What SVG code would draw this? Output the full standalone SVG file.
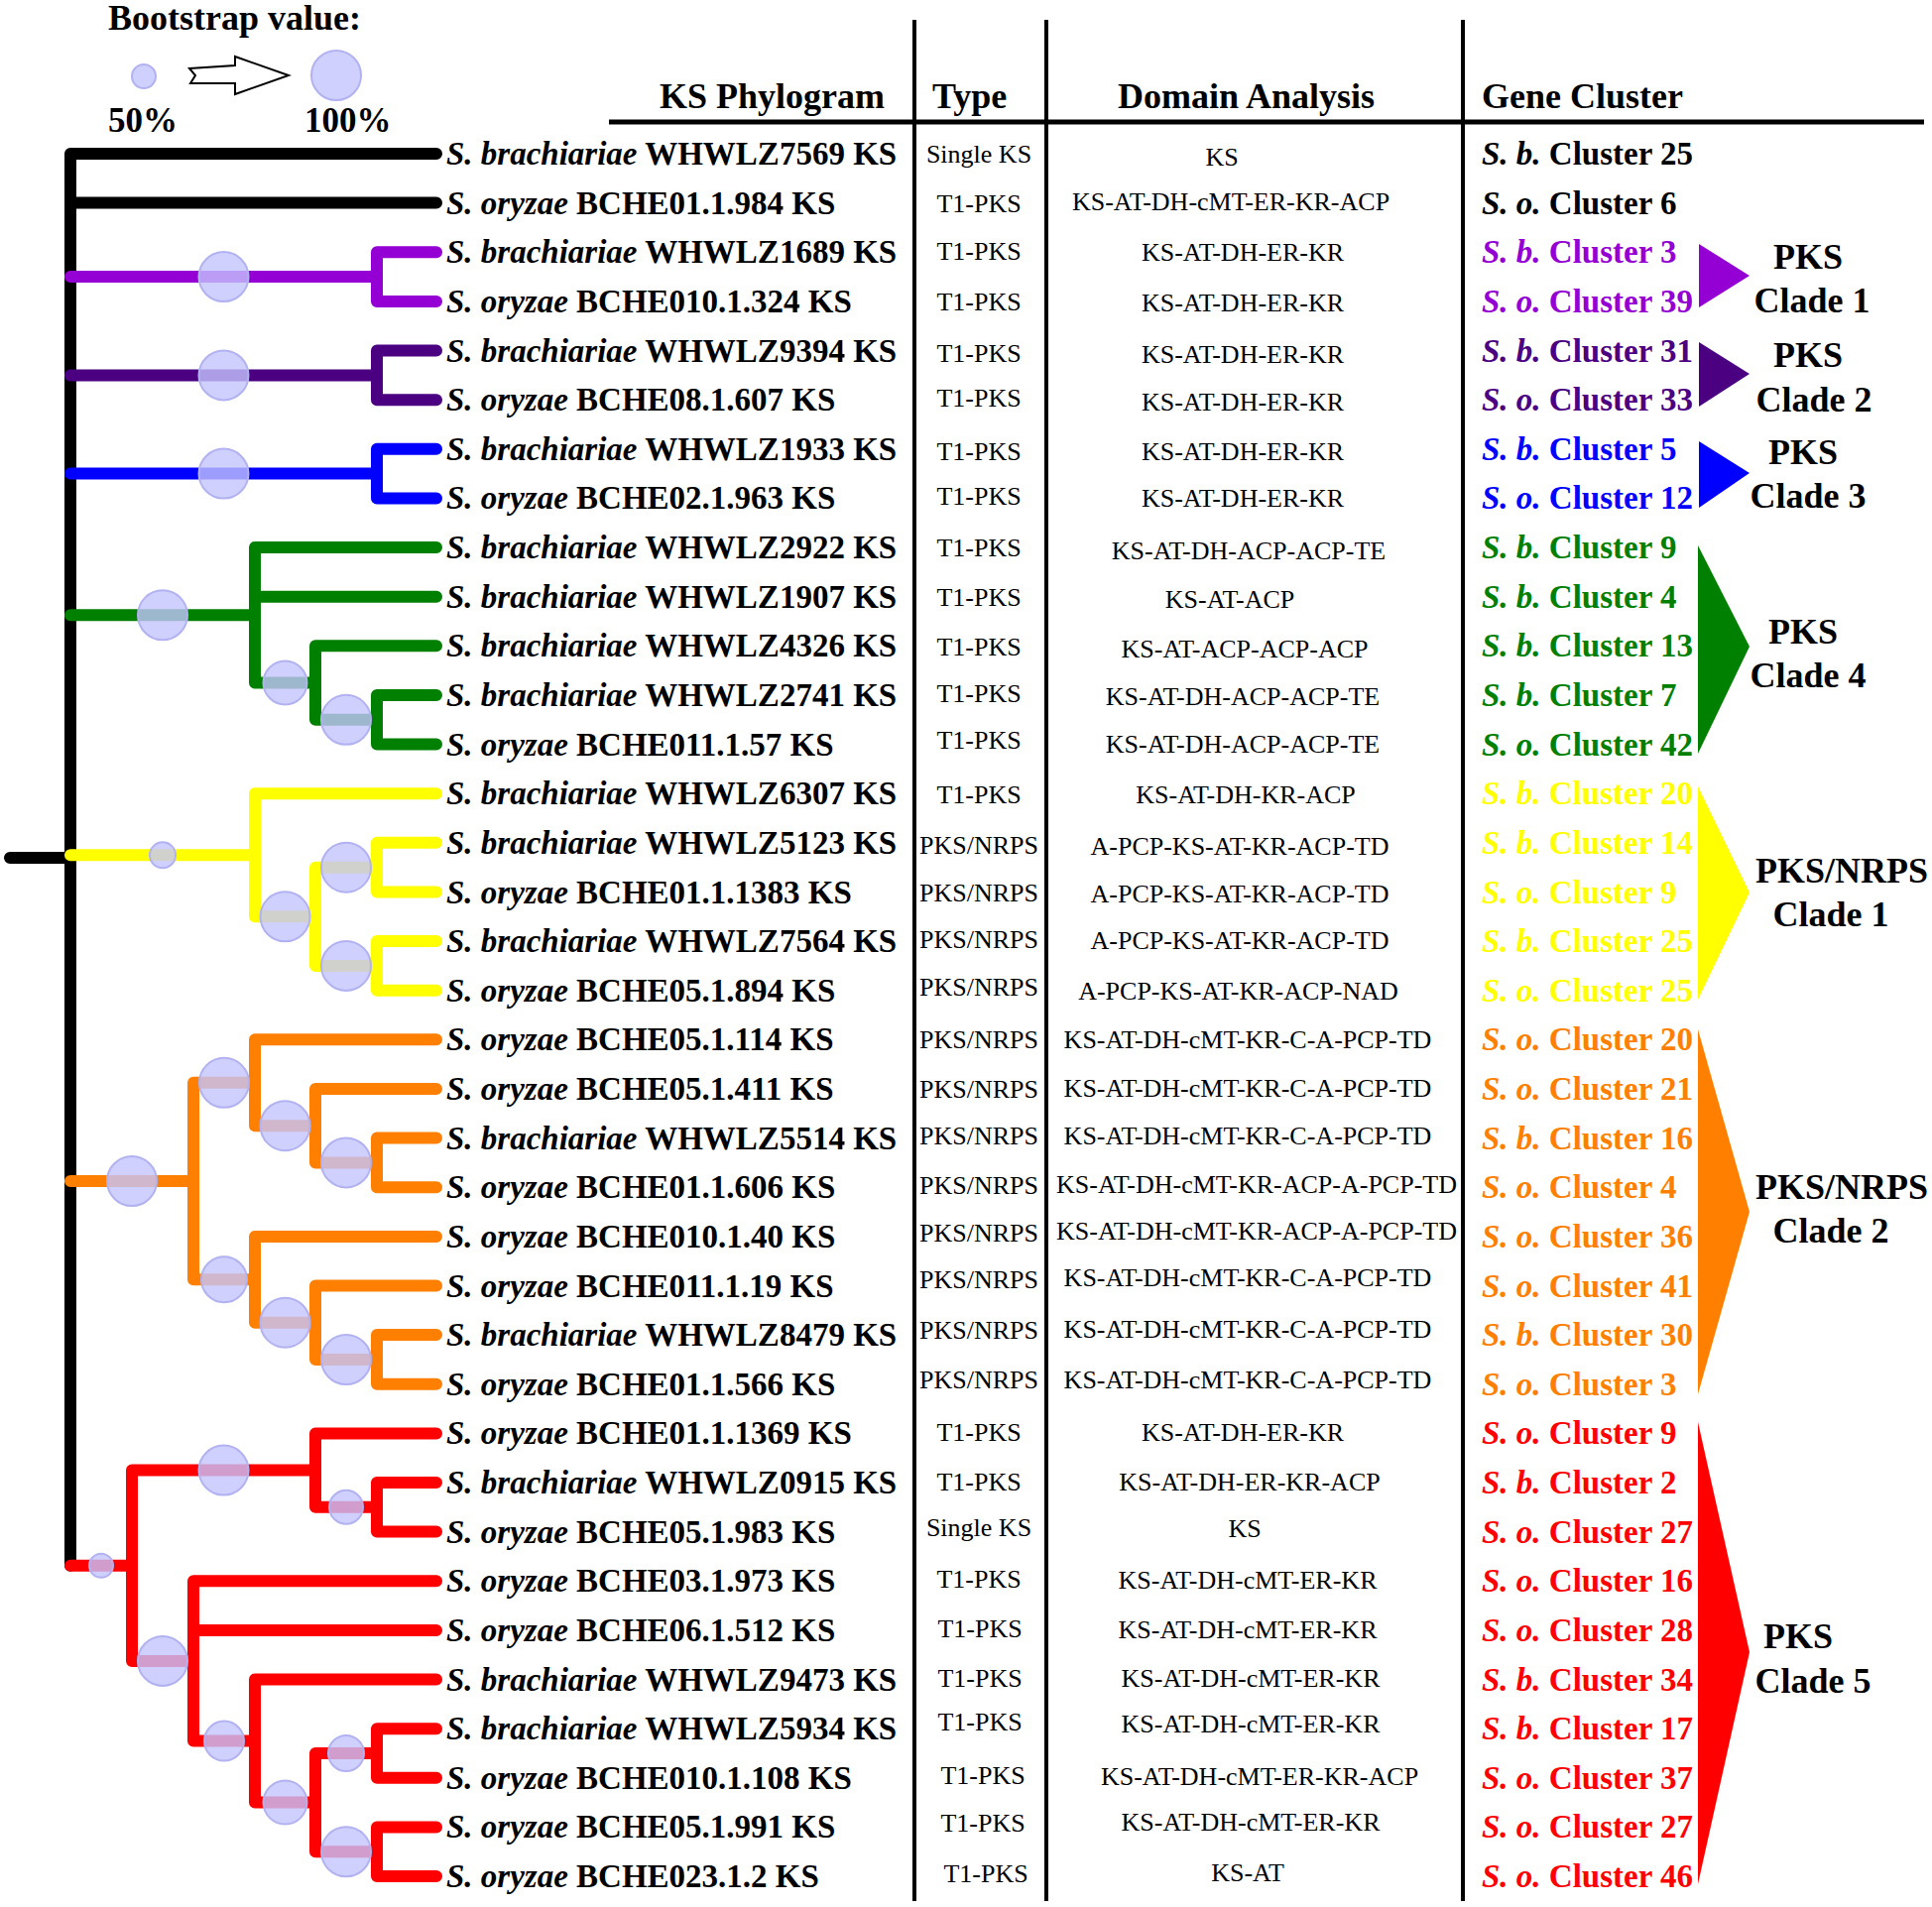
<svg xmlns="http://www.w3.org/2000/svg" width="1948" height="1923" viewBox="0 0 1948 1923">
<style>
text{font-family:"Liberation Serif","Times New Roman",serif;fill:#000}
.lab{font-size:33px;font-weight:bold}
.typ{font-size:26px;text-anchor:middle}
.dom{font-size:26px;text-anchor:middle}
.gc{font-size:33px;font-weight:bold}
.i{font-style:italic}
.hdr{font-size:36px;font-weight:bold}
.cl{font-size:36px;font-weight:bold;text-anchor:middle}
.br{fill:none;stroke-width:12;stroke-linecap:round;stroke-linejoin:round}
.bs{fill:#c4c4ff;fill-opacity:0.8;stroke:#b2b2f2;stroke-width:2}
.col{stroke:#000;stroke-width:4}
.k{fill:#000}.p{fill:#9400D3}.n{fill:#4B0082}.b{fill:#0000FF}.g{fill:#008000}.y{fill:#FFFF00}.o{fill:#FF8000}.r{fill:#FF0000}
</style>
<rect width="1948" height="1923" fill="#fff"/>

<g id="legend">
<text class="hdr" x="109" y="30">Bootstrap value:</text>
<circle class="bs" cx="145" cy="77" r="12"/>
<polygon points="191,69 237,66 237,57 291,76 237,95 237,84 192,84 197,76" fill="#fff" stroke="#000" stroke-width="2" stroke-linejoin="miter"/>
<circle class="bs" cx="339" cy="76" r="25"/>
<text x="109" y="133" style="font-size:35px;font-weight:bold">50%</text>
<text x="307" y="133" style="font-size:35px;font-weight:bold">100%</text>
</g>

<g id="table-frame">
<line class="col" x1="922" y1="20" x2="922" y2="1917"/>
<line class="col" x1="1055" y1="20" x2="1055" y2="1917"/>
<line class="col" x1="1475" y1="20" x2="1475" y2="1917"/>
<line x1="614" y1="123" x2="1940" y2="123" stroke="#000" stroke-width="5"/>
<text class="hdr" x="665" y="109">KS Phylogram</text>
<text class="hdr" x="940" y="109">Type</text>
<text class="hdr" x="1127" y="109">Domain Analysis</text>
<text class="hdr" x="1494" y="109">Gene Cluster</text>
</g>

<g id="connectors">
<path class="br" stroke="#000" d="M440,155 H71 V1578.8 M71,204.6 H440 M10,865 H71"/>
<path class="br" stroke="#9400D3" d="M71,279.1 H380 M440,254.3 H380 V303.9 H440"/>
<path class="br" stroke="#4B0082" d="M71,378.4 H380 M440,353.5 H380 V403.2 H440"/>
<path class="br" stroke="#0000FF" d="M71,477.6 H380 M440,452.8 H380 V502.4 H440"/>
<path class="br" stroke="#008000" d="M71,620.3 H257 M440,552 H257 V688.5 H318 M257,601.7 H440 M440,651.3 H318 V725.8 H380 M440,700.9 H380 V750.6 H440"/>
<path class="br" stroke="#FFFF00" d="M71,862.3 H257 M440,800.2 H257 V924.3 H318 M380,874.7 H318 V973.9 H380 M440,849.8 H380 V899.5 H440 M440,949.1 H380 V998.7 H440"/>
<path class="br" stroke="#FF8000" d="M71,1191 H195 M257,1091.8 H195 V1290.3 H257 M440,1048.3 H257 V1135.2 H318 M440,1098 H318 V1172.4 H380 M440,1147.6 H380 V1197.2 H440 M440,1246.9 H257 V1333.7 H318 M440,1296.5 H318 V1371 H380 M440,1346.1 H380 V1395.8 H440"/>
<path class="br" stroke="#FF0000" d="M71,1578.8 H133 M318,1482.6 H133 V1674.9 H195 M440,1445.4 H318 V1519.8 H380 M440,1495 H380 V1544.6 H440 M440,1594.3 H195 V1755.6 H257 M195,1643.9 H440 M440,1693.5 H257 V1817.6 H318 M380,1768 H318 V1867.3 H380 M440,1743.2 H380 V1792.8 H440 M440,1842.4 H380 V1892.1 H440"/>
</g>

<g id="bootstrap">
<circle class="bs" cx="225.5" cy="279.1" r="25"/>
<circle class="bs" cx="225.5" cy="378.4" r="25"/>
<circle class="bs" cx="225.5" cy="477.6" r="25"/>
<circle class="bs" cx="164" cy="620.3" r="25"/>
<circle class="bs" cx="287.5" cy="688.5" r="22"/>
<circle class="bs" cx="349" cy="725.8" r="25"/>
<circle class="bs" cx="164" cy="862.3" r="13"/>
<circle class="bs" cx="287.5" cy="924.3" r="25"/>
<circle class="bs" cx="349" cy="874.7" r="25"/>
<circle class="bs" cx="349" cy="973.9" r="25"/>
<circle class="bs" cx="133" cy="1191" r="25"/>
<circle class="bs" cx="226" cy="1091.8" r="25"/>
<circle class="bs" cx="287.5" cy="1135.2" r="25"/>
<circle class="bs" cx="349" cy="1172.4" r="25"/>
<circle class="bs" cx="226" cy="1290.3" r="23"/>
<circle class="bs" cx="287.5" cy="1333.7" r="25"/>
<circle class="bs" cx="349" cy="1371" r="25"/>
<circle class="bs" cx="102" cy="1578.8" r="12"/>
<circle class="bs" cx="225.5" cy="1482.6" r="25"/>
<circle class="bs" cx="349" cy="1519.8" r="17"/>
<circle class="bs" cx="164" cy="1674.9" r="25"/>
<circle class="bs" cx="226" cy="1755.6" r="20"/>
<circle class="bs" cx="287.5" cy="1817.6" r="22"/>
<circle class="bs" cx="349" cy="1768" r="18"/>
<circle class="bs" cx="349" cy="1867.3" r="25"/>
</g>

<g id="row-0"><text class="lab" x="450" y="166"><tspan class="i">S. brachiariae</tspan> WHWLZ7569 KS</text><text class="typ" x="987" y="164">Single KS</text><text class="dom" x="1232" y="167">KS</text><text class="gc k" x="1494" y="166"><tspan class="i">S. b.</tspan> Cluster 25</text></g>
<g id="row-1"><text class="lab" x="450" y="215.6"><tspan class="i">S. oryzae</tspan> BCHE01.1.984 KS</text><text class="typ" x="987" y="213.5">T1-PKS</text><text class="dom" x="1241" y="212">KS-AT-DH-cMT-ER-KR-ACP</text><text class="gc k" x="1494" y="215.6"><tspan class="i">S. o.</tspan> Cluster 6</text></g>
<g id="row-2"><text class="lab" x="450" y="265.3"><tspan class="i">S. brachiariae</tspan> WHWLZ1689 KS</text><text class="typ" x="987" y="262">T1-PKS</text><text class="dom" x="1253" y="263">KS-AT-DH-ER-KR</text><text class="gc p" x="1494" y="265.3"><tspan class="i">S. b.</tspan> Cluster 3</text></g>
<g id="row-3"><text class="lab" x="450" y="314.9"><tspan class="i">S. oryzae</tspan> BCHE010.1.324 KS</text><text class="typ" x="987" y="313">T1-PKS</text><text class="dom" x="1253" y="314">KS-AT-DH-ER-KR</text><text class="gc p" x="1494" y="314.9"><tspan class="i">S. o.</tspan> Cluster 39</text></g>
<g id="row-4"><text class="lab" x="450" y="364.5"><tspan class="i">S. brachiariae</tspan> WHWLZ9394 KS</text><text class="typ" x="987" y="365">T1-PKS</text><text class="dom" x="1253" y="366">KS-AT-DH-ER-KR</text><text class="gc n" x="1494" y="364.5"><tspan class="i">S. b.</tspan> Cluster 31</text></g>
<g id="row-5"><text class="lab" x="450" y="414.2"><tspan class="i">S. oryzae</tspan> BCHE08.1.607 KS</text><text class="typ" x="987" y="409.8">T1-PKS</text><text class="dom" x="1253" y="414">KS-AT-DH-ER-KR</text><text class="gc n" x="1494" y="414.2"><tspan class="i">S. o.</tspan> Cluster 33</text></g>
<g id="row-6"><text class="lab" x="450" y="463.8"><tspan class="i">S. brachiariae</tspan> WHWLZ1933 KS</text><text class="typ" x="987" y="464.4">T1-PKS</text><text class="dom" x="1253" y="464">KS-AT-DH-ER-KR</text><text class="gc b" x="1494" y="463.8"><tspan class="i">S. b.</tspan> Cluster 5</text></g>
<g id="row-7"><text class="lab" x="450" y="513.4"><tspan class="i">S. oryzae</tspan> BCHE02.1.963 KS</text><text class="typ" x="987" y="509">T1-PKS</text><text class="dom" x="1253" y="511">KS-AT-DH-ER-KR</text><text class="gc b" x="1494" y="513.4"><tspan class="i">S. o.</tspan> Cluster 12</text></g>
<g id="row-8"><text class="lab" x="450" y="563"><tspan class="i">S. brachiariae</tspan> WHWLZ2922 KS</text><text class="typ" x="987" y="561">T1-PKS</text><text class="dom" x="1259" y="564">KS-AT-DH-ACP-ACP-TE</text><text class="gc g" x="1494" y="563"><tspan class="i">S. b.</tspan> Cluster 9</text></g>
<g id="row-9"><text class="lab" x="450" y="612.7"><tspan class="i">S. brachiariae</tspan> WHWLZ1907 KS</text><text class="typ" x="987" y="611">T1-PKS</text><text class="dom" x="1240" y="613">KS-AT-ACP</text><text class="gc g" x="1494" y="612.7"><tspan class="i">S. b.</tspan> Cluster 4</text></g>
<g id="row-10"><text class="lab" x="450" y="662.3"><tspan class="i">S. brachiariae</tspan> WHWLZ4326 KS</text><text class="typ" x="987" y="660.7">T1-PKS</text><text class="dom" x="1255" y="663">KS-AT-ACP-ACP-ACP</text><text class="gc g" x="1494" y="662.3"><tspan class="i">S. b.</tspan> Cluster 13</text></g>
<g id="row-11"><text class="lab" x="450" y="711.9"><tspan class="i">S. brachiariae</tspan> WHWLZ2741 KS</text><text class="typ" x="987" y="708">T1-PKS</text><text class="dom" x="1253" y="711">KS-AT-DH-ACP-ACP-TE</text><text class="gc g" x="1494" y="711.9"><tspan class="i">S. b.</tspan> Cluster 7</text></g>
<g id="row-12"><text class="lab" x="450" y="761.6"><tspan class="i">S. oryzae</tspan> BCHE011.1.57 KS</text><text class="typ" x="987" y="755">T1-PKS</text><text class="dom" x="1253" y="759">KS-AT-DH-ACP-ACP-TE</text><text class="gc g" x="1494" y="761.6"><tspan class="i">S. o.</tspan> Cluster 42</text></g>
<g id="row-13"><text class="lab" x="450" y="811.2"><tspan class="i">S. brachiariae</tspan> WHWLZ6307 KS</text><text class="typ" x="987" y="809.8">T1-PKS</text><text class="dom" x="1256" y="810">KS-AT-DH-KR-ACP</text><text class="gc y" x="1494" y="811.2"><tspan class="i">S. b.</tspan> Cluster 20</text></g>
<g id="row-14"><text class="lab" x="450" y="860.8"><tspan class="i">S. brachiariae</tspan> WHWLZ5123 KS</text><text class="typ" x="987" y="860.7">PKS/NRPS</text><text class="dom" x="1250" y="862">A-PCP-KS-AT-KR-ACP-TD</text><text class="gc y" x="1494" y="860.8"><tspan class="i">S. b.</tspan> Cluster 14</text></g>
<g id="row-15"><text class="lab" x="450" y="910.5"><tspan class="i">S. oryzae</tspan> BCHE01.1.1383 KS</text><text class="typ" x="987" y="909.2">PKS/NRPS</text><text class="dom" x="1250" y="910">A-PCP-KS-AT-KR-ACP-TD</text><text class="gc y" x="1494" y="910.5"><tspan class="i">S. o.</tspan> Cluster 9</text></g>
<g id="row-16"><text class="lab" x="450" y="960.1"><tspan class="i">S. brachiariae</tspan> WHWLZ7564 KS</text><text class="typ" x="987" y="956.4">PKS/NRPS</text><text class="dom" x="1250" y="957">A-PCP-KS-AT-KR-ACP-TD</text><text class="gc y" x="1494" y="960.1"><tspan class="i">S. b.</tspan> Cluster 25</text></g>
<g id="row-17"><text class="lab" x="450" y="1009.7"><tspan class="i">S. oryzae</tspan> BCHE05.1.894 KS</text><text class="typ" x="987" y="1003.6">PKS/NRPS</text><text class="dom" x="1248.5" y="1008">A-PCP-KS-AT-KR-ACP-NAD</text><text class="gc y" x="1494" y="1009.7"><tspan class="i">S. o.</tspan> Cluster 25</text></g>
<g id="row-18"><text class="lab" x="450" y="1059.3"><tspan class="i">S. oryzae</tspan> BCHE05.1.114 KS</text><text class="typ" x="987" y="1057">PKS/NRPS</text><text class="dom" x="1258" y="1057">KS-AT-DH-cMT-KR-C-A-PCP-TD</text><text class="gc o" x="1494" y="1059.3"><tspan class="i">S. o.</tspan> Cluster 20</text></g>
<g id="row-19"><text class="lab" x="450" y="1109"><tspan class="i">S. oryzae</tspan> BCHE05.1.411 KS</text><text class="typ" x="987" y="1106.7">PKS/NRPS</text><text class="dom" x="1258" y="1106">KS-AT-DH-cMT-KR-C-A-PCP-TD</text><text class="gc o" x="1494" y="1109"><tspan class="i">S. o.</tspan> Cluster 21</text></g>
<g id="row-20"><text class="lab" x="450" y="1158.6"><tspan class="i">S. brachiariae</tspan> WHWLZ5514 KS</text><text class="typ" x="987" y="1153.9">PKS/NRPS</text><text class="dom" x="1258" y="1154">KS-AT-DH-cMT-KR-C-A-PCP-TD</text><text class="gc o" x="1494" y="1158.6"><tspan class="i">S. b.</tspan> Cluster 16</text></g>
<g id="row-21"><text class="lab" x="450" y="1208.2"><tspan class="i">S. oryzae</tspan> BCHE01.1.606 KS</text><text class="typ" x="987" y="1203.6">PKS/NRPS</text><text class="dom" x="1267" y="1203">KS-AT-DH-cMT-KR-ACP-A-PCP-TD</text><text class="gc o" x="1494" y="1208.2"><tspan class="i">S. o.</tspan> Cluster 4</text></g>
<g id="row-22"><text class="lab" x="450" y="1257.9"><tspan class="i">S. oryzae</tspan> BCHE010.1.40 KS</text><text class="typ" x="987" y="1252">PKS/NRPS</text><text class="dom" x="1267" y="1250">KS-AT-DH-cMT-KR-ACP-A-PCP-TD</text><text class="gc o" x="1494" y="1257.9"><tspan class="i">S. o.</tspan> Cluster 36</text></g>
<g id="row-23"><text class="lab" x="450" y="1307.5"><tspan class="i">S. oryzae</tspan> BCHE011.1.19 KS</text><text class="typ" x="987" y="1299.2">PKS/NRPS</text><text class="dom" x="1258" y="1297">KS-AT-DH-cMT-KR-C-A-PCP-TD</text><text class="gc o" x="1494" y="1307.5"><tspan class="i">S. o.</tspan> Cluster 41</text></g>
<g id="row-24"><text class="lab" x="450" y="1357.1"><tspan class="i">S. brachiariae</tspan> WHWLZ8479 KS</text><text class="typ" x="987" y="1350.2">PKS/NRPS</text><text class="dom" x="1258" y="1349">KS-AT-DH-cMT-KR-C-A-PCP-TD</text><text class="gc o" x="1494" y="1357.1"><tspan class="i">S. b.</tspan> Cluster 30</text></g>
<g id="row-25"><text class="lab" x="450" y="1406.8"><tspan class="i">S. oryzae</tspan> BCHE01.1.566 KS</text><text class="typ" x="987" y="1399.9">PKS/NRPS</text><text class="dom" x="1258" y="1400">KS-AT-DH-cMT-KR-C-A-PCP-TD</text><text class="gc o" x="1494" y="1406.8"><tspan class="i">S. o.</tspan> Cluster 3</text></g>
<g id="row-26"><text class="lab" x="450" y="1456.4"><tspan class="i">S. oryzae</tspan> BCHE01.1.1369 KS</text><text class="typ" x="987" y="1453.3">T1-PKS</text><text class="dom" x="1253" y="1453">KS-AT-DH-ER-KR</text><text class="gc r" x="1494" y="1456.4"><tspan class="i">S. o.</tspan> Cluster 9</text></g>
<g id="row-27"><text class="lab" x="450" y="1506"><tspan class="i">S. brachiariae</tspan> WHWLZ0915 KS</text><text class="typ" x="987" y="1503">T1-PKS</text><text class="dom" x="1260" y="1503">KS-AT-DH-ER-KR-ACP</text><text class="gc r" x="1494" y="1506"><tspan class="i">S. b.</tspan> Cluster 2</text></g>
<g id="row-28"><text class="lab" x="450" y="1555.6"><tspan class="i">S. oryzae</tspan> BCHE05.1.983 KS</text><text class="typ" x="987" y="1549">Single KS</text><text class="dom" x="1255" y="1550">KS</text><text class="gc r" x="1494" y="1555.6"><tspan class="i">S. o.</tspan> Cluster 27</text></g>
<g id="row-29"><text class="lab" x="450" y="1605.3"><tspan class="i">S. oryzae</tspan> BCHE03.1.973 KS</text><text class="typ" x="987" y="1601.1">T1-PKS</text><text class="dom" x="1258" y="1602">KS-AT-DH-cMT-ER-KR</text><text class="gc r" x="1494" y="1605.3"><tspan class="i">S. o.</tspan> Cluster 16</text></g>
<g id="row-30"><text class="lab" x="450" y="1654.9"><tspan class="i">S. oryzae</tspan> BCHE06.1.512 KS</text><text class="typ" x="988" y="1650.8">T1-PKS</text><text class="dom" x="1258" y="1652">KS-AT-DH-cMT-ER-KR</text><text class="gc r" x="1494" y="1654.9"><tspan class="i">S. o.</tspan> Cluster 28</text></g>
<g id="row-31"><text class="lab" x="450" y="1704.5"><tspan class="i">S. brachiariae</tspan> WHWLZ9473 KS</text><text class="typ" x="988" y="1700.5">T1-PKS</text><text class="dom" x="1261" y="1701">KS-AT-DH-cMT-ER-KR</text><text class="gc r" x="1494" y="1704.5"><tspan class="i">S. b.</tspan> Cluster 34</text></g>
<g id="row-32"><text class="lab" x="450" y="1754.2"><tspan class="i">S. brachiariae</tspan> WHWLZ5934 KS</text><text class="typ" x="988" y="1745.2">T1-PKS</text><text class="dom" x="1261" y="1747">KS-AT-DH-cMT-ER-KR</text><text class="gc r" x="1494" y="1754.2"><tspan class="i">S. b.</tspan> Cluster 17</text></g>
<g id="row-33"><text class="lab" x="450" y="1803.8"><tspan class="i">S. oryzae</tspan> BCHE010.1.108 KS</text><text class="typ" x="991" y="1798.7">T1-PKS</text><text class="dom" x="1270" y="1800">KS-AT-DH-cMT-ER-KR-ACP</text><text class="gc r" x="1494" y="1803.8"><tspan class="i">S. o.</tspan> Cluster 37</text></g>
<g id="row-34"><text class="lab" x="450" y="1853.4"><tspan class="i">S. oryzae</tspan> BCHE05.1.991 KS</text><text class="typ" x="991" y="1847.1">T1-PKS</text><text class="dom" x="1261" y="1846">KS-AT-DH-cMT-ER-KR</text><text class="gc r" x="1494" y="1853.4"><tspan class="i">S. o.</tspan> Cluster 27</text></g>
<g id="row-35"><text class="lab" x="450" y="1903.1"><tspan class="i">S. oryzae</tspan> BCHE023.1.2 KS</text><text class="typ" x="994" y="1898">T1-PKS</text><text class="dom" x="1258" y="1897">KS-AT</text><text class="gc r" x="1494" y="1903.1"><tspan class="i">S. o.</tspan> Cluster 46</text></g>

<g id="clade-pks1"><polygon class="p" points="1713,246 1713,310 1764,278"/><text class="cl" x="1823" y="271">PKS</text><text class="cl" x="1827" y="315">Clade 1</text></g>
<g id="clade-pks2"><polygon class="n" points="1713,345 1713,410 1764,377"/><text class="cl" x="1823" y="370">PKS</text><text class="cl" x="1829" y="415">Clade 2</text></g>
<g id="clade-pks3"><polygon class="b" points="1713,445 1713,512 1764,477"/><text class="cl" x="1818" y="468">PKS</text><text class="cl" x="1823" y="512">Clade 3</text></g>
<g id="clade-pks4"><polygon class="g" points="1712,550 1712,760 1764,652"/><text class="cl" x="1818" y="649">PKS</text><text class="cl" x="1823" y="693">Clade 4</text></g>
<g id="clade-nrps1"><polygon class="y" points="1712,793 1712,1008 1764,900"/><text class="cl" x="1857" y="890">PKS/NRPS</text><text class="cl" x="1846" y="934">Clade 1</text></g>
<g id="clade-nrps2"><polygon class="o" points="1712,1038 1712,1406 1764,1222"/><text class="cl" x="1857" y="1209">PKS/NRPS</text><text class="cl" x="1846" y="1253">Clade 2</text></g>
<g id="clade-pks5"><polygon class="r" points="1712,1434 1712,1900 1764,1666"/><text class="cl" x="1813" y="1662">PKS</text><text class="cl" x="1828" y="1707">Clade 5</text></g>
</svg>
